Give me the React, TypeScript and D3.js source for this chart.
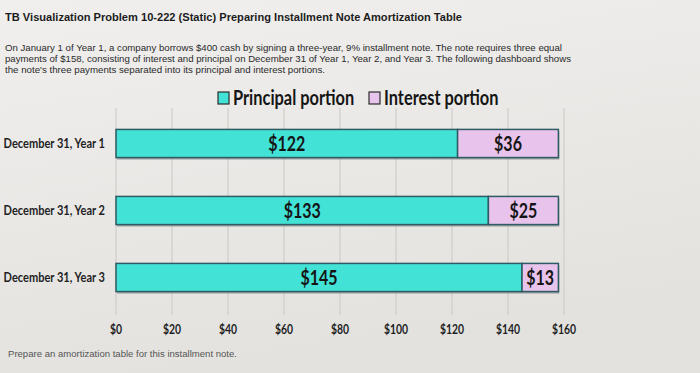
import React, { useEffect, useRef } from 'react';
import * as d3 from 'd3';

// chart data
const categories = ['December 31, Year 1', 'December 31, Year 2', 'December 31, Year 3'];
const principal = [122, 133, 145];
const interest = [36, 25, 13];
const tickValues = [0, 20, 40, 60, 80, 100, 120, 140, 160];
const seriesNames = ['Principal portion', 'Interest portion'];

const titleText = 'TB Visualization Problem 10-222 (Static) Preparing Installment Note Amortization Table';
const introLines = [
  'On January 1 of Year 1, a company borrows $400 cash by signing a three-year, 9% installment note. The note requires three equal',
  'payments of $158, consisting of interest and principal on December 31 of Year 1, Year 2, and Year 3. The following dashboard shows',
  "the note's three payments separated into its principal and interest portions.",
];
const footerText = 'Prepare an amortization table for this installment note.';

const W = 700;
const H = 373;
const PRINCIPAL_COLOR = '#42e2d6';
const INTEREST_COLOR = '#e8c4ec';
const BORDER = '#2d5a63';
const CHART_FONT = "Lato, 'Open Sans', sans-serif";
const PLAIN = "'Liberation Sans', Arial, sans-serif";
const SQUEEZE = 0.8; // the chart font is a condensed one; fake it with a horizontal scale

// text drawn in a squeezed group, anchored at (x, y)
function narrowText(parent, x, y, str, { size, anchor = 'middle', weight = 'bold', fill = '#151515', squeeze = SQUEEZE, dy = '0' }) {
  const g = parent.append('g').attr('transform', `translate(${x},${y}) scale(${squeeze},1)`);
  g.append('text')
    .attr('text-anchor', anchor)
    .attr('dy', dy)
    .attr('font-family', CHART_FONT)
    .attr('font-size', size)
    .attr('font-weight', weight)
    .attr('fill', fill)
    .text(str);
  return g;
}

const App = () => {
  const svgRef = useRef<SVGSVGElement | null>(null);

  useEffect(() => {
    if (!svgRef.current) return;
    const svg = d3.select(svgRef.current);
    svg.selectAll('*').remove();

    // photo-ish background
    const defs = svg.append('defs');
    const grad = defs.append('linearGradient')
      .attr('id', 'bg')
      .attr('x1', 0).attr('y1', 0).attr('x2', 0.3).attr('y2', 1);
    grad.append('stop').attr('offset', '0%').attr('stop-color', '#f0efed');
    grad.append('stop').attr('offset', '100%').attr('stop-color', '#e3e2df');
    svg.append('rect').attr('width', W).attr('height', H).attr('fill', 'url(#bg)');

    /*************************************************
     * header texts
     *************************************************/
    svg.append('text')
      .attr('x', 5).attr('y', 21)
      .attr('font-family', PLAIN)
      .attr('font-size', 11)
      .attr('font-weight', 'bold')
      .attr('fill', '#1c1c1c')
      .attr('textLength', 457)
      .attr('lengthAdjust', 'spacingAndGlyphs')
      .text(titleText);

    const introWidths = [557, 566, 320];
    introLines.forEach((line, i) => {
      svg.append('text')
        .attr('x', 5).attr('y', 51 + i * 11)
        .attr('font-family', PLAIN)
        .attr('font-size', 9)
        .attr('fill', '#2a2a2a')
        .attr('textLength', introWidths[i])
        .attr('lengthAdjust', 'spacingAndGlyphs')
        .text(line);
    });

    /*************************************************
     * scales
     *************************************************/
    const x = d3.scaleLinear().domain([0, 160]).range([116, 564]);
    const y = d3.scaleBand<string>()
      .domain(categories)
      .range([110, 311])
      .paddingInner(0.58)
      .paddingOuter(0.29);

    // grid
    svg.append('g')
      .selectAll('line')
      .data(tickValues)
      .enter()
      .append('line')
      .attr('x1', d => x(d)).attr('x2', d => x(d))
      .attr('y1', 108).attr('y2', 315)
      .attr('stroke', '#c9c8c5')
      .attr('stroke-width', 1);

    // tick labels
    const tickG = svg.append('g');
    tickValues.forEach(v => {
      narrowText(tickG, x(v), 334, `$${v}`, { size: 13, fill: '#1f1f1f' });
    });

    // category labels
    const catG = svg.append('g');
    categories.forEach(c => {
      narrowText(catG, 105, (y(c) as number) + y.bandwidth() / 2, c, {
        size: 13.5, anchor: 'end', fill: '#1f1f1f', dy: '0.35em', squeeze: 0.82,
      });
    });

    /*************************************************
     * stacked bars
     *************************************************/
    const rows = categories.map((c, i) => ({ c, p: principal[i], q: interest[i] }));
    const bh = y.bandwidth();

    const bars = svg.append('g');
    // shadow under each whole bar
    bars.selectAll('.shadow')
      .data(rows)
      .enter()
      .append('rect')
      .attr('x', x(0) + 1)
      .attr('y', d => (y(d.c) as number) + 2)
      .attr('width', d => x(d.p + d.q) - x(0))
      .attr('height', bh)
      .attr('fill', '#4c5a5e')
      .attr('opacity', 0.45);

    const segs: { c: string; x0: number; x1: number; v: number; color: string }[] = [];
    rows.forEach(r => {
      segs.push({ c: r.c, x0: 0, x1: r.p, v: r.p, color: PRINCIPAL_COLOR });
      segs.push({ c: r.c, x0: r.p, x1: r.p + r.q, v: r.q, color: INTEREST_COLOR });
    });

    bars.selectAll('.seg')
      .data(segs)
      .enter()
      .append('rect')
      .attr('x', d => x(d.x0))
      .attr('y', d => y(d.c) as number)
      .attr('width', d => x(d.x1) - x(d.x0))
      .attr('height', bh)
      .attr('fill', d => d.color)
      .attr('stroke', BORDER)
      .attr('stroke-width', 1.5);

    segs.forEach(d => {
      narrowText(bars, (x(d.x0) + x(d.x1)) / 2, (y(d.c) as number) + bh / 2, `$${d.v}`, {
        size: 20, dy: '0.36em',
      });
    });

    /*************************************************
     * legend
     *************************************************/
    const legendX = [218, 369];
    const legendColors = [PRINCIPAL_COLOR, INTEREST_COLOR];
    const legend = svg.append('g');
    seriesNames.forEach((name, i) => {
      legend.append('rect')
        .attr('x', legendX[i]).attr('y', 92)
        .attr('width', 11).attr('height', 12)
        .attr('fill', legendColors[i])
        .attr('stroke', '#2b2b2b')
        .attr('stroke-width', 1.2);
      narrowText(legend, legendX[i] + 15, 105, name, { size: 21, anchor: 'start', squeeze: 0.78 });
    });

    // footer
    svg.append('text')
      .attr('x', 8).attr('y', 357)
      .attr('font-family', PLAIN)
      .attr('font-size', 8.5)
      .attr('fill', '#555')
      .attr('textLength', 229)
      .attr('lengthAdjust', 'spacingAndGlyphs')
      .text(footerText);
  }, []);

  return (
    <svg
      ref={svgRef}
      width={W}
      height={H}
      style={{ position: 'absolute', left: 0, top: 0, display: 'block' }}
    />
  );
};

export default App;
